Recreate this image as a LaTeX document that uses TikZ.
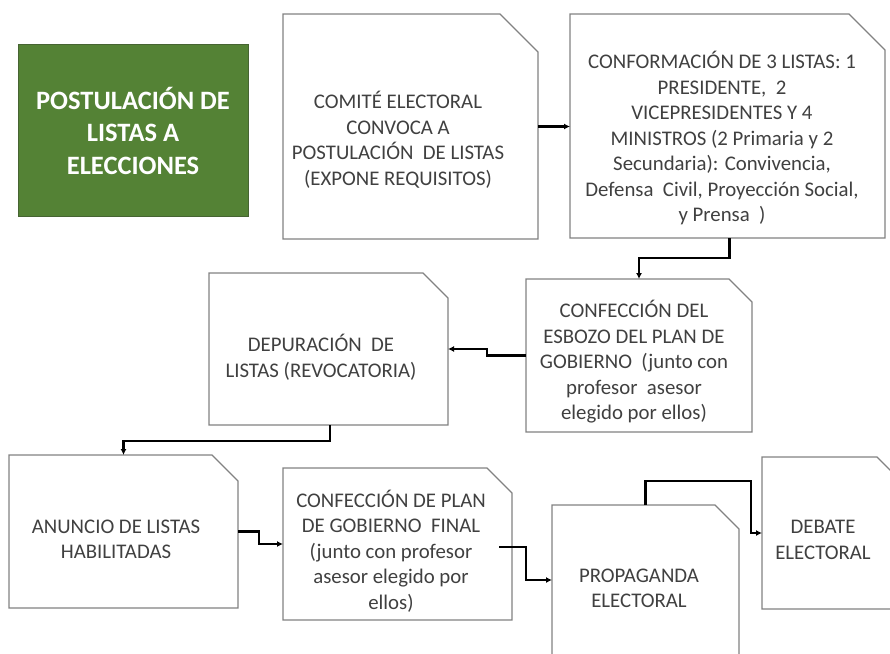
\documentclass[tikz,border=0pt]{standalone}
\usepackage{fontspec}
\setmainfont{Carlito}
\usetikzlibrary{calc,arrows.meta}
\definecolor{tgreen}{RGB}{84,130,53}
\definecolor{tgreenb}{RGB}{70,100,50}
\definecolor{tgray}{RGB}{64,64,64}
\definecolor{bgray}{RGB}{130,130,130}
\newcommand\snipbox[6]{%
  \node[boxframe, minimum width={#4-#2}, minimum height={#5-#3}] (#1) at ({(#2+#4)/2},{(#3+#5)/2}) {};
  \draw[frame] (#1.north west) -- ($(#1.north east)+(-#6,0)$) -- ($(#1.north east)+(0,#6)$) -- (#1.south east) -- (#1.south west) -- cycle;
}
\begin{document}
\begin{tikzpicture}[x=1pt,y=-1pt,
  boxframe/.style={draw=none, inner sep=0pt, outer sep=0pt},
  frame/.style={draw=bgray, line width=1.2pt, fill=white},
  txt/.style={text=tgray, font=\fontsize{20.8}{25.5}\selectfont, align=center, inner sep=0pt},
  conn/.style={draw=black, line width=2.4pt, -{Latex[length=6pt,width=6pt]}},
]
\useasboundingbox (0,0) rectangle (890,653);
\clip (0,0) rectangle (890,653);

% title
\node[fill=tgreen, draw=tgreenb, line width=0.8pt, minimum width=230pt, minimum height=172pt, inner sep=0pt] (title) at (133,130) {};
\node[text=white, font=\bfseries\fontsize{26.5}{32.5}\selectfont, align=center, inner sep=0pt] (ttitle) at (133,130.5) {POSTULACIÓN DE\\LISTAS A\\ELECCIONES};

% boxes
\snipbox{b1}{283}{14}{538}{239}{38}
\snipbox{b2}{570}{14}{885}{238}{36}
\snipbox{b3}{526}{279}{752}{432}{23}
\snipbox{b4}{209}{273}{448}{425}{25}
\snipbox{b5}{9}{455}{238}{608}{26}
\snipbox{b6}{283}{468}{512}{620}{25}
\snipbox{b7}{552}{505}{739}{680}{24}
\snipbox{b8}{762}{457}{902}{609}{25}

% texts
\node[txt] (t1) at (398,140) {COMITÉ ELECTORAL\\CONVOCA A\\POSTULACIÓN~ DE LISTAS\\(EXPONE REQUISITOS)};
\node[txt] (t2) at (722,138) {CONFORMACIÓN DE 3 LISTAS: 1\\PRESIDENTE,~ 2\\VICEPRESIDENTES Y 4\\MINISTROS (2 Primaria y 2\\Secundaria): Convivencia,\\Defensa~ Civil, Proyección Social,\\y Prensa~ )};
\node[txt] (t3) at (634,362) {CONFECCIÓN DEL\\ESBOZO DEL PLAN DE\\GOBIERNO~ (junto con\\profesor~ asesor\\elegido por ellos)};
\node[txt] (t4) at (321,357.5) {DEPURACIÓN~ DE\\LISTAS (REVOCATORIA)};
\node[txt] (t5) at (116,539.5) {ANUNCIO DE LISTAS\\HABILITADAS};
\node[txt] (t6) at (391,551) {CONFECCIÓN DE PLAN\\DE GOBIERNO~ FINAL\\(junto con profesor\\asesor elegido por\\ellos)};
\node[txt] (t7) at (639,588.5) {PROPAGANDA\\ELECTORAL};
\node[txt] (t8) at (823,540) {DEBATE\\ELECTORAL};

% connectors
\draw[conn] (b1.east) -- (b1.east -| b2.west);
\draw[conn] ($(b2.south)+(2,0)$) |- ($(b3.north)+(0,-21)$) -- (b3.north);
\draw[conn] (b3.west) -- ++(-39,0) |- (b4.east);
\draw[conn] ($(b4.south)+(1.5,0)$) -- ++(0,16) -| (b5.north);
\draw[conn] (b5.east) -- ++(21,0) |- (b6.west);
\draw[conn] ($(b6.east)+(-13,3)$) -- ++(27,0) |- ($(b7.north west)+(0,75)$);
\draw[conn] (b7.north) -- ++(0,-24) -| ($(b8.west)+(-11,0)$) -- (b8.west);
\end{tikzpicture}
\end{document}
